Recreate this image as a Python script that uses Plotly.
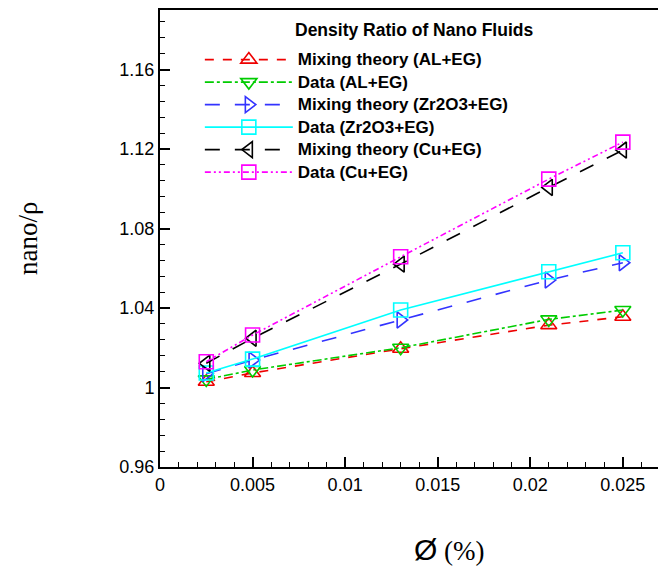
import plotly.graph_objects as go

x_vals = [0.0025, 0.005, 0.013, 0.021, 0.025]

mix_al = [1.0029, 1.0073, 1.0195, 1.0314, 1.0356]
data_al = [1.0041, 1.0088, 1.0200, 1.0343, 1.0390]
mix_zr = [1.0070, 1.0138, 1.0340, 1.0541, 1.0628]
data_zr = [1.0073, 1.0143, 1.0390, 1.0583, 1.0678]
mix_cu = [1.0122, 1.0248, 1.0621, 1.1007, 1.1195]
data_cu = [1.0130, 1.0264, 1.0658, 1.1049, 1.1235]

names = ["Mixing theory (AL+EG)", "Data (AL+EG)", "Mixing theory (Zr2O3+EG)",
         "Data (Zr2O3+EG)", "Mixing theory (Cu+EG)", "Data (Cu+EG)"]
series = [mix_al, data_al, mix_zr, data_zr, mix_cu, data_cu]
colors = ["#ee0000", "#00cc00", "#3333ff", "#00ffff", "#000000", "#ff00ff"]
symbols = ["triangle-up-open", "triangle-down-open", "triangle-right-open",
           "square-open", "triangle-left-open", "square-open"]
dashes = ["dash", "dashdot", "longdash", "solid", "longdash", "6px,3px,2px,3px,2px,3px"]

fig = go.Figure()
for n, s, c, sym, d in zip(names, series, colors, symbols, dashes):
    fig.add_trace(go.Scatter(
        x=x_vals, y=s, mode="lines+markers",
        name="<span style='font-size:17px'>" + n + "</span>",
        line=dict(color=c, width=1.6, dash=d),
        marker=dict(symbol=sym, size=14, color=c, line=dict(color=c, width=1.6)),
    ))

fig.update_layout(
    width=658, height=567,
    margin=dict(l=160, r=0, t=10, b=100),
    plot_bgcolor="white", paper_bgcolor="white",
    font=dict(family="Arial", color="black"),
    legend=dict(
        x=0.08, y=0.927, xanchor="left", yanchor="top",
        bgcolor="rgba(0,0,0,0)",
        font=dict(family="Arial", size=15, color="black", weight="bold"),
        tracegroupgap=0, itemwidth=88,
    ),
    xaxis=dict(
        range=[0, 0.0269], showgrid=False, zeroline=False,
        showline=True, linecolor="black", linewidth=2, mirror=True,
        ticks="inside", ticklen=10, tickwidth=1.5, tickcolor="black",
        tick0=0, dtick=0.005,
        minor=dict(ticks="inside", ticklen=5, tickwidth=1.2, tickcolor="black", dtick=0.001),
        tickfont=dict(family="Arial", size=18, color="black"),
    ),
    yaxis=dict(
        range=[0.96, 1.19], showgrid=False, zeroline=False,
        showline=True, linecolor="black", linewidth=2, mirror=False,
        ticks="inside", ticklen=10, tickwidth=1.5, tickcolor="black",
        tick0=0.96, dtick=0.04,
        minor=dict(ticks="inside", ticklen=5, tickwidth=1.2, tickcolor="black", dtick=0.008),
        tickfont=dict(family="Arial", size=18, color="black"),
    ),
)

fig.add_annotation(
    text="<b>Density Ratio of Nano Fluids</b>", xref="paper", yref="paper",
    x=0.51, y=0.931, xanchor="center", yanchor="bottom", showarrow=False,
    font=dict(family="Arial", size=17.5, color="black"),
)
fig.add_annotation(
    text="nano/ρ", xref="paper", yref="paper", x=-0.266, y=0.5,
    textangle=-90, showarrow=False, xanchor="center", yanchor="middle",
    font=dict(family="Liberation Serif", size=27, color="black"),
)
fig.add_annotation(
    text="<span style='font-family:Arial;font-size:30px'>Ø</span> (%)",
    xref="paper", yref="paper", x=0.582, y=-0.18, showarrow=False,
    xanchor="center", yanchor="middle",
    font=dict(family="Liberation Serif", size=27, color="black"),
)

fig.write_html("out.html", post_script="document.body.style.margin='0';",
               config={"displayModeBar": False})
